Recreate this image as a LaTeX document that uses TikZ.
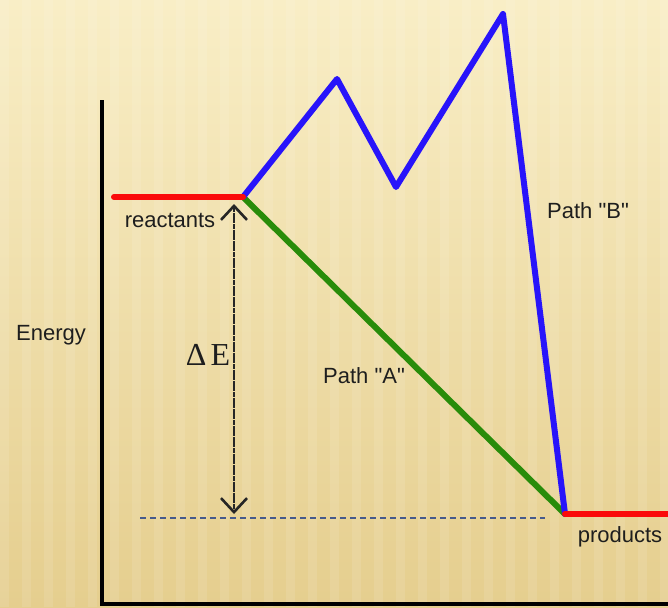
\documentclass[tikz,border=0pt]{standalone}
\usepackage{fontspec}
\setmainfont{Liberation Sans}
\newfontfamily\deltaface{Liberation Serif}
\usetikzlibrary{arrows.meta}
\definecolor{bgtop}{RGB}{249,238,198}
\definecolor{bgbot}{RGB}{229,206,142}
\definecolor{pathb}{RGB}{40,20,250}
\definecolor{patha}{RGB}{40,140,10}
\definecolor{lvl}{RGB}{250,10,10}
\definecolor{txt}{RGB}{30,30,30}
\definecolor{guide}{RGB}{70,90,140}
\tikzset{
  axis/.style={black,line width=2pt},
  level/.style={lvl,line width=3pt,line cap=round},
  route/.style={line width=3pt,line join=round,line cap=round},
  lab/.style={font=\fontsize{11}{13}\selectfont,text=txt},
  gap/.style={{Straight Barb[length=7pt,width=13pt,line width=1.3pt]}-{Straight Barb[length=7pt,width=13pt,line width=1.3pt]},black!85,line width=0.9pt,dash pattern=on 2.5pt off 0.3pt},
}

\begin{document}
\begin{tikzpicture}[x=0.5pt,y=-0.5pt]
% ================= background =================
\useasboundingbox (0,0) rectangle (668,607);
\shade[top color=bgtop,bottom color=bgbot] (0,0) rectangle (668,607);
\foreach \sx in {0,22,...,660}{
  \fill[white,opacity=0.10] (\sx,0) rectangle ++(9,607);
}

% ================= axes =================
\coordinate (top) at (102,100);
\coordinate (orig) at (102,604);
\coordinate (xend) at (668,604);
\draw[axis] (top) -- (orig) -- (xend);
\node[lab] (energy) at (51,335) {Energy};

% ================= levels =================
\coordinate (rl) at (114,197);
\coordinate (r) at (243,197);
\coordinate (p) at (565,514);
\coordinate (pr) at (668,514);
\coordinate (b1) at (337,79);
\coordinate (b2) at (396,187);
\coordinate (b3) at (503,14);

% path A (direct)
\draw[route,patha] (r) -- (p);
% path B (via intermediates)
\draw[route,pathb] (r) -- (b1) -- (b2) -- (b3) -- (p);
\draw[level] (rl) -- (r);
\draw[level] (p) -- (pr);

% energy difference
\coordinate (dtop) at (234,204);
\coordinate (dbot) at (234,514);
\coordinate (gl) at (140,518);
\coordinate (gr) at (545,518);
\draw[guide,line width=0.6pt,densely dashed] (gl) -- (gr);
\draw[gap] (dtop) -- (dbot);

% ================= labels =================
\node[lab] (reac) at (170,220) {reactants};
\node[lab] (prod) at (620,537) {products};
\node[lab] (pa) at (364,376) {Path \textquotedbl A\textquotedbl};
\node[lab] (pb) at (588,211) {Path \textquotedbl B\textquotedbl};
\node[font=\deltaface\fontsize{16}{18}\selectfont,text=txt] (de) at (208,355) {Δ\kern2pt E};
\end{tikzpicture}
\end{document}
